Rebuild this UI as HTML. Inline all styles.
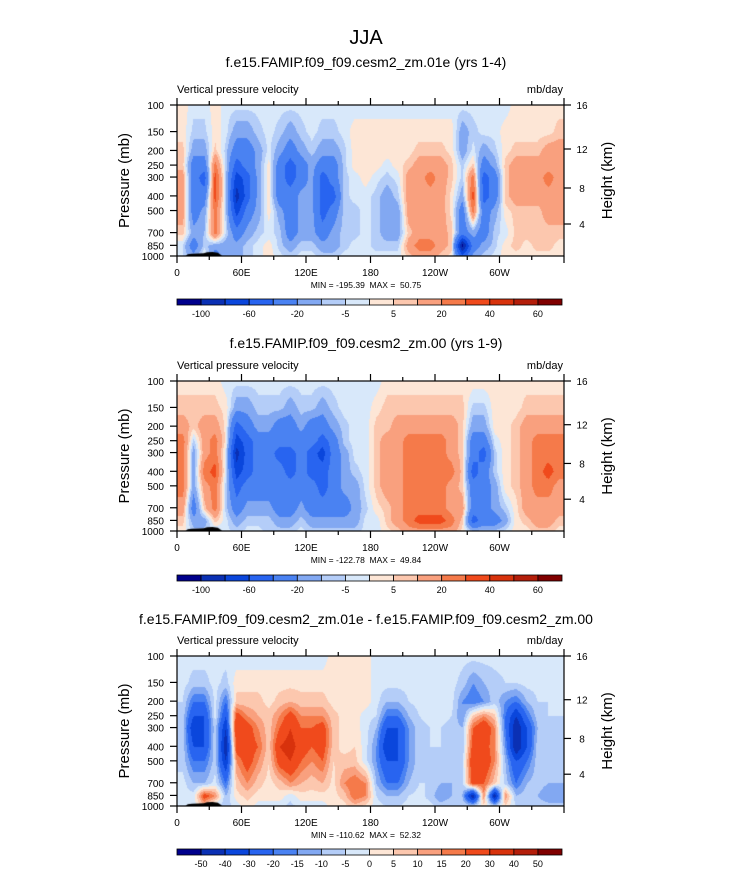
<!DOCTYPE html>
<html><head><meta charset="utf-8">
<style>
body{margin:0;background:#fff;font-family:"Liberation Sans",sans-serif;}
#root{position:relative;width:733px;height:872px;overflow:hidden;}
canvas{position:absolute;}
svg{position:absolute;left:0;top:0;}
text{white-space:pre;}
</style></head>
<body><div id="root">
<canvas id="c1" width="387" height="151" style="left:177px;top:105px"></canvas>
<canvas id="c2" width="387" height="150" style="left:177px;top:381px"></canvas>
<canvas id="c3" width="387" height="150" style="left:177px;top:656px"></canvas>
<svg id="s" width="733" height="872"></svg>
</div>
<script>
const levels = [100,150,200,250,300,400,500,700,850,1000];
const lonCenters = [5,15,25,35,45,55,65,75,85,95,105,115,125,135,145,155,165,175,185,195,205,215,225,235,245,255,265,275,285,295,305,315,325,335,345,355];
const xTickLabels = ["0","60E","120E","180","120W","60W"];
const pTickLabels = [100,150,200,250,300,400,500,700,850,1000];
const hTickLabels = [16,12,8,4];
const cbLevels12 = [-100,-80,-60,-40,-20,-10,-5,0,5,10,20,30,40,50,60];
const cbLevels3 = [-50,-40,-30,-20,-15,-10,-5,0,5,10,15,20,30,40,50];
const cbShown12 = ["-100","","-60","","-20","","-5","","5","","20","","40","","60"];
const cbShown3 = ["-50","-40","-30","-20","-15","-10","-5","0","5","10","15","20","30","40","50"];
const colors = ["#00008c","#0a30b4","#0a46dc","#2864f0","#4a82f2","#82a8f2","#b4cdf8","#d8e8fa","#fde6d6","#fcc7ae","#f9a07e","#f57a4a","#f04a1c","#d8320c","#b41e0a","#800000"];
const p1Values = [
[3,3,7,7,15,15,15,7,-5,-5],[-3,-7,-15,-30,-30,-30,-30,-15,-30,-15],[-3,-7,-15,-30,-50,-30,-15,-10,-7,3],[3,3,7,25,35,35,25,25,-15,-30],
[-3,-3,-7,-7,-7,-7,-7,-5,-15,-10],[-3,-15,-30,-50,-70,-90,-70,-30,-15,-15],[-3,-15,-30,-30,-50,-50,-30,-15,-7,-7],[-3,-7,-15,-15,-15,-15,-15,-7,-3,-3],
[-3,-3,-3,3,3,3,3,-3,3,3],[-3,-7,-15,-30,-30,-30,-15,-7,-7,-3],[-3,-15,-30,-50,-50,-30,-30,-30,-15,-7],[-3,-7,-15,-30,-30,-15,-15,-15,-7,-3],
[-3,-3,-7,-15,-15,-15,-15,-15,-7,-3],[-3,-7,-15,-30,-50,-50,-50,-30,-15,-7],[-3,-7,-15,-30,-30,-50,-30,-15,-15,-7],[-3,-3,-7,-7,-7,-7,-7,-7,-7,-3],
[-3,3,3,3,-3,-3,-7,-7,-3,-3],[-3,3,3,3,3,-3,-3,-3,-3,-3],[-3,3,3,3,-3,-7,-7,-7,-7,-3],[-3,3,3,-3,-7,-15,-15,-15,-7,-3],
[-3,3,3,3,-3,-7,-15,-15,-7,-3],[-3,3,3,7,15,15,15,7,15,7],[-3,3,7,15,15,15,15,15,25,15],[-3,3,7,15,25,15,15,15,25,15],
[-3,3,7,15,15,15,15,15,15,7],[-3,3,3,7,7,3,3,7,7,3],[-3,-15,-15,-7,-7,-15,-30,-30,-110,-50],[-3,-7,-3,7,25,35,25,-15,-30,-15],
[-3,-3,-15,-30,-50,-50,-30,-30,-15,-7],[-3,-3,-7,-15,-30,-30,-15,-7,-7,-3],[-3,3,3,7,7,7,3,-3,3,3],[3,3,7,15,15,15,7,7,7,3],
[3,3,7,15,15,15,7,7,3,3],[3,3,7,15,15,15,7,7,7,3],[3,3,15,15,25,15,15,7,7,3],[3,7,15,15,15,15,15,7,3,3]];
const p2Values = [
[3,7,15,25,25,25,25,15,7,3],[3,7,7,-7,-15,-15,-15,-30,-15,-7],[3,7,15,15,15,25,15,7,-15,-7],[3,7,15,25,25,35,25,25,7,-7],
[-3,3,3,3,-3,-3,-7,-7,-3,-3],[-3,-15,-50,-70,-90,-70,-50,-30,-15,-7],[-3,-15,-30,-50,-50,-50,-30,-15,-7,-3],[-3,-7,-15,-30,-30,-30,-30,-15,-7,-3],
[-3,-7,-15,-30,-30,-30,-30,-15,-7,-7],[-3,-7,-30,-30,-50,-30,-30,-30,-15,-7],[-3,-15,-30,-30,-50,-50,-30,-30,-15,-7],[-3,-7,-15,-30,-30,-30,-30,-15,-7,-3],
[-3,-7,-30,-30,-50,-50,-30,-30,-15,-7],[-3,-15,-30,-50,-70,-50,-50,-30,-15,-7],[-3,-7,-15,-30,-30,-30,-30,-30,-15,-7],[-3,-3,-7,-7,-15,-15,-15,-30,-15,-7],
[-3,-3,-3,-3,-3,-7,-15,-15,-15,-7],[-3,-3,-3,-3,-3,-3,-3,-7,-3,-3],[-3,3,7,7,7,7,7,3,-3,-3],[3,7,7,15,15,15,15,7,7,3],
[3,7,15,15,15,15,15,15,15,7],[3,7,15,25,25,25,25,25,25,15],[3,7,15,25,25,25,25,25,35,15],[3,7,15,25,25,25,25,25,35,15],
[3,7,15,25,25,25,25,25,35,15],[3,7,15,15,15,25,15,15,25,15],[3,7,7,7,7,7,7,15,7,3],[3,-7,-15,-30,-30,-50,-30,-30,-50,-7],
[3,-7,-15,-30,-50,-30,-30,-30,-30,-7],[3,3,3,-3,-7,-7,-15,-15,-30,-7],[3,3,3,3,3,3,3,-7,-15,-3],[3,3,7,7,7,7,7,3,3,3],
[3,7,15,15,15,15,15,15,7,3],[3,7,15,25,25,25,25,15,15,7],[3,7,15,25,25,35,25,15,15,7],[3,7,15,25,25,25,15,15,7,3]];
const p3Values = [
[-3,-3,-5,-7,-7,-7,-7,-3,-3,-3],[-3,-7,-20,-30,-40,-30,-20,-10,-3,-3],[-3,-7,-20,-30,-30,-30,-20,-10,25,7],[-3,-3,-3,-3,-7,-5,-7,-3,15,-7],
[-3,-7,-20,-30,-40,-50,-40,-20,-10,-7],[-3,3,7,25,30,25,15,7,3,-3],[-3,3,7,15,25,25,25,15,7,3],[-3,3,7,10,15,20,15,7,3,-3],
[-3,3,3,7,7,7,5,3,3,-3],[-3,3,7,15,20,30,25,7,3,-3],[-3,3,10,25,30,35,30,15,-3,-7],[-3,3,7,15,20,25,20,10,3,-3],
[-3,3,7,15,20,20,15,7,3,-3],[-3,3,7,15,25,25,20,10,3,-3],[3,3,3,7,7,7,5,3,3,3],[3,3,3,3,3,3,7,15,7,3],
[3,3,3,3,3,5,7,20,20,7],[3,3,3,-3,-3,-3,-3,15,15,3],[-3,-3,-3,-5,-10,-15,-15,-10,-5,-3],[-3,-3,-10,-20,-30,-40,-30,-20,-10,-5],
[-3,-3,-10,-20,-30,-30,-30,-20,-10,-5],[-3,-3,-5,-10,-15,-15,-15,-10,-5,-3],[-3,-3,-3,-5,-7,-7,-7,-5,-3,-3],[-3,-3,-3,-3,-5,-5,-5,-5,-7,-3],
[-3,-3,-3,-3,-5,-5,-7,-10,-15,-7],[-3,-3,-3,-5,-7,-7,-10,-10,-10,-5],[-3,-7,-15,-15,-10,-10,-7,-7,-10,-5],[-3,-15,-20,7,20,25,30,25,-50,-5],
[-3,-10,-15,15,30,25,30,20,15,3],[-3,-7,-7,7,15,15,15,7,-50,-5],[-3,-5,-15,-20,-20,-15,-10,-7,15,3],[-3,-5,-20,-40,-50,-50,-30,-20,-10,-5],
[-3,-3,-10,-20,-30,-30,-20,-10,-7,-5],[-3,-3,-5,-7,-10,-7,-7,-7,-10,-7],[-3,-3,-5,-5,-7,-7,-7,-10,-15,-7],[-3,-3,-3,-5,-7,-7,-10,-10,-15,-7]];
const terrainLon = [8,10,14,20,25,28,33,38,40,42];
const terrainP = [1000,975,965,962,960,945,940,950,975,1000];

function yOf(p,top,h){return top+Math.log(p/100)/Math.log(10)*h;}
function sample(data,lon,p){
  let fx=(lon-5)/10; if(fx<0)fx=0; if(fx>35)fx=35;
  const i0=Math.floor(fx), i1=Math.min(35,i0+1), tx=fx-i0;
  const lp=Math.log(p); let j=0;
  while(j<levels.length-2 && Math.log(levels[j+1])<lp) j++;
  let ty=(lp-Math.log(levels[j]))/(Math.log(levels[j+1])-Math.log(levels[j]));
  ty=Math.max(0,Math.min(1,ty));
  const a=data[i0][j]*(1-ty)+data[i0][j+1]*ty, b=data[i1][j]*(1-ty)+data[i1][j+1]*ty;
  return a*(1-tx)+b*tx;
}
function colorIdx(v,cb){let k=0;while(k<cb.length&&v>=cb[k])k++;return k;}
function hex(c){return [parseInt(c.substr(1,2),16),parseInt(c.substr(3,2),16),parseInt(c.substr(5,2),16)];}
const rgb=colors.map(hex);
function drawField(id,data,cb){
  const cv=document.getElementById(id),ctx=cv.getContext('2d');
  const W=cv.width,H=cv.height,img=ctx.createImageData(W,H);
  for(let y=0;y<H;y++){const p=100*Math.pow(10,y/H);
    for(let x=0;x<W;x++){const lon=x/W*360;
      const c=rgb[colorIdx(sample(data,lon,p),cb)];const o=(y*W+x)*4;
      img.data[o]=c[0];img.data[o+1]=c[1];img.data[o+2]=c[2];img.data[o+3]=255;}}
  ctx.putImageData(img,0,0);
  ctx.fillStyle="#000";ctx.beginPath();ctx.moveTo(terrainLon[0]/360*W,H);
  for(let k=0;k<terrainLon.length;k++)ctx.lineTo(terrainLon[k]/360*W,Math.log(terrainP[k]/100)/Math.log(10)*H);
  ctx.closePath();ctx.fill();
}
drawField('c1',p1Values,cbLevels12);
drawField('c2',p2Values,cbLevels12);
drawField('c3',p3Values,cbLevels3);

const S=document.getElementById('s'),NS="http://www.w3.org/2000/svg";
function el(t,a,txt){const e=document.createElementNS(NS,t);for(const k in a)e.setAttribute(k,a[k]);if(txt!==undefined)e.textContent=txt;S.appendChild(e);return e;}
function txt(x,y,s,size,anchor,name){const e=el('text',{x:x,y:y,'font-size':size,'text-anchor':anchor||'middle','font-family':'Liberation Sans, sans-serif',fill:'#000'},s);

return e;}
const L=177,R=564,W=R-L;
txt(366,44,"JJA",20,'middle','main-title');
const panels=[
 {top:105,h:151,title:"f.e15.FAMIP.f09_f09.cesm2_zm.01e (yrs 1-4)",ty:67,mm:"MIN = -195.39  MAX =  50.75",cbY:299,cb:cbShown12},
 {top:381,h:150,title:"f.e15.FAMIP.f09_f09.cesm2_zm.00 (yrs 1-9)",ty:348,mm:"MIN = -122.78  MAX =  49.84",cbY:575,cb:cbShown12},
 {top:656,h:150,title:"f.e15.FAMIP.f09_f09.cesm2_zm.01e - f.e15.FAMIP.f09_f09.cesm2_zm.00",ty:624,mm:"MIN = -110.62  MAX =  52.32",cbY:849,cb:cbShown3}];
panels.forEach((P,n)=>{
  const id=n+1,B=P.top+P.h;
  txt(366,P.ty,P.title,14,'middle','panel-title-'+id);
  txt(L,P.top-12,"Vertical pressure velocity",11,'start','variable-label-'+id);
  txt(R-1,P.top-12,"mb/day",11,'end','units-label-'+id);
  const f=el('rect',{x:L,y:P.top,width:W,height:P.h,fill:'none',stroke:'#000','stroke-width':1.2});
  
  
  for(let d=0;d<=360;d+=30){const x=L+d/360*W,len=d%60===0?7:4;
    el('line',{x1:x,y1:B,x2:x,y2:B+len,stroke:'#000','stroke-width':1.2});
    el('line',{x1:x,y1:P.top,x2:x,y2:P.top-len,stroke:'#000','stroke-width':1.2});}
  xTickLabels.forEach((s,k)=>{txt(L+k*60/360*W,B+20,s,10,'middle','x-tick-label-'+id+'-'+k);});
  pTickLabels.forEach((p,k)=>{const y=yOf(p,P.top,P.h);
    el('line',{x1:L-7,y1:y,x2:L,y2:y,stroke:'#000','stroke-width':1.2});
    txt(L-13,y+4,String(p),10,'end','y-tick-label-'+id+'-'+k);});
  hTickLabels.forEach((h,k)=>{
    const ya=[0,44,83,119][k]*P.h/151+P.top;
    el('line',{x1:R,y1:ya,x2:R+7,y2:ya,stroke:'#000','stroke-width':1.2});
    txt(R+18,ya+4,String(h),10,'middle','height-tick-label-'+id+'-'+k);});
  const yl=txt(0,0,"Pressure (mb)",15,'middle','y-axis-title-'+id);
  yl.setAttribute('transform','translate(129,'+(P.top+P.h/2)+') rotate(-90)');
  const hl=txt(0,0,"Height (km)",15,'middle','right-axis-title-'+id);
  hl.setAttribute('transform','translate(612,'+(P.top+P.h/2)+') rotate(-90)');
  txt(366,B+32,P.mm,8.5,'middle','min-max-label-'+id);
  const bw=(562-177)/16;
  colors.forEach((c,k)=>{const r=el('rect',{x:177+k*bw,y:P.cbY,width:bw,height:6,fill:c,stroke:'#000','stroke-width':0.8});
    
    });
  P.cb.forEach((s,k)=>{if(s)txt(177+(k+1)*bw,P.cbY+18,s,9,'middle','colorbar-label-'+id+'-'+k);});
});
</script>
</body></html>
